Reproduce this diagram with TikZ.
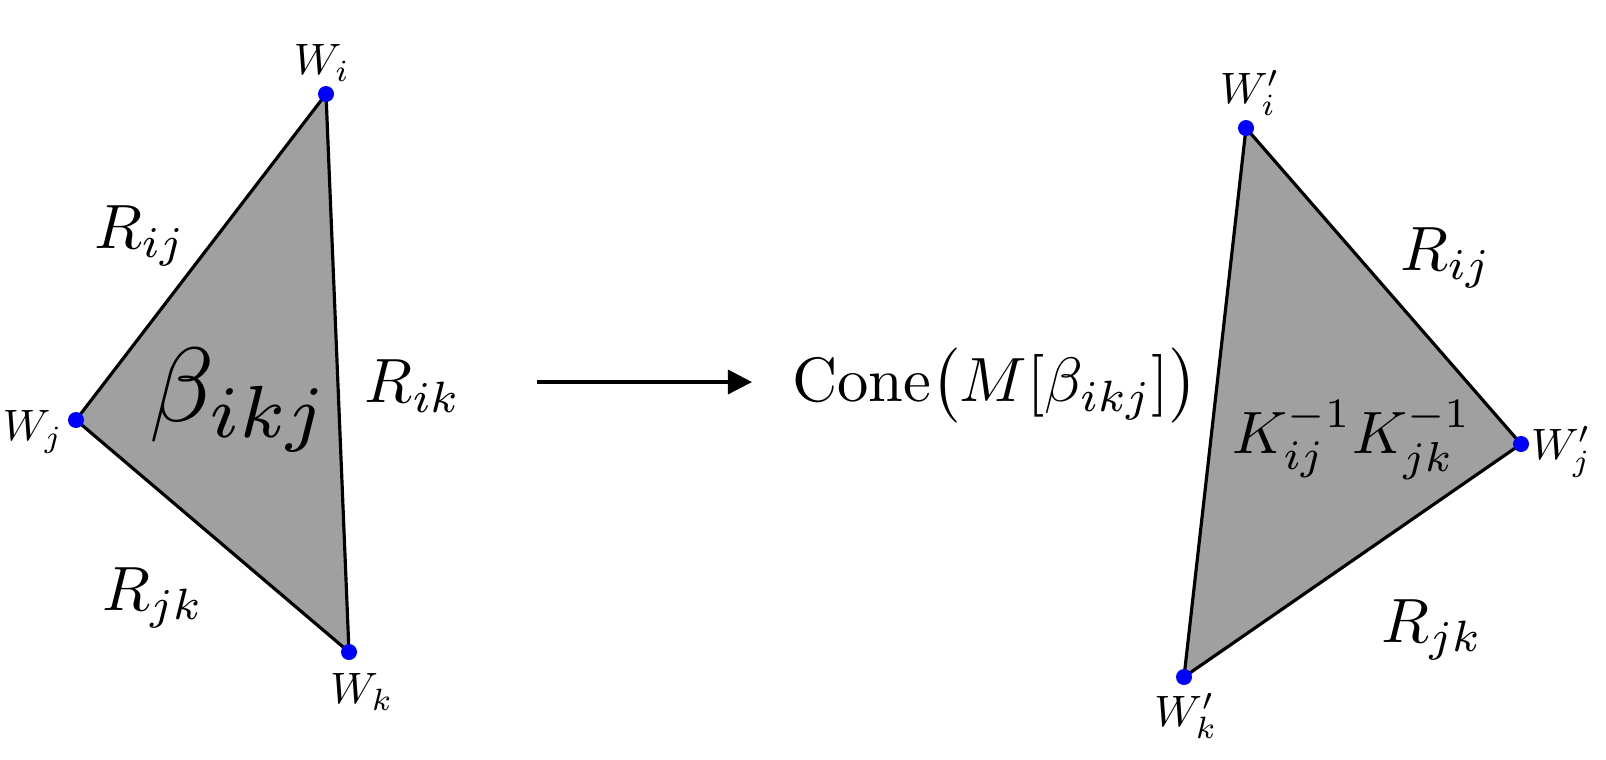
\documentclass[tikz,border=0pt]{standalone}
\usepackage{amsmath}
\usetikzlibrary{arrows.meta}
\begin{document}
\begin{tikzpicture}[x=0.01cm,y=-0.01cm,
  tri/.style={fill={rgb,255:red,160;green,160;blue,160},draw=black,line width=0.9pt,line join=round},
  vdot/.style={circle,fill=blue,inner sep=0pt,minimum size=0.16cm},
  small/.style={inner sep=0pt,scale=1.25},
  mid/.style={inner sep=0pt,scale=1.78},
  conn/.style={line width=0.9pt,-{Triangle[length=0.24cm,width=0.24cm]}}]
\useasboundingbox (0,0) rectangle (1606,759);
% left triangle
\coordinate (a) at (326,94);
\coordinate (b) at (76,420);
\coordinate (c) at (349,652);
\draw[tri] (a) -- (b) -- (c) -- cycle;
\node[vdot] (Wi) at (a) {};
\node[vdot] (Wj) at (b) {};
\node[vdot] (Wk) at (c) {};
\node[small] (lWi) at (322,63) {$W_i$};
\node[small] (lWj) at (33,432) {$W_j$};
\node[small] (lWk) at (362,692) {$W_k$};
\node[mid] (Rij) at (140,236) {$R_{ij}$};
\node[mid] (Rik) at (413,386) {$R_{ik}$};
\node[mid] (Rjk) at (153,598) {$R_{jk}$};
\node[inner sep=0pt,scale=3] (beta) at (240,400) {$\beta_{ikj}$};
% arrow
\coordinate (s) at (537,382);
\coordinate (e) at (752,382);
\draw[conn] (s) -- (e);
\node[mid] (cone) at (995,386) {$\mathrm{Cone}\bigl(M[\beta_{ikj}]\bigr)$};
% right triangle
\coordinate (a2) at (1246,128);
\coordinate (b2) at (1521,444);
\coordinate (c2) at (1184,677);
\draw[tri] (a2) -- (b2) -- (c2) -- cycle;
\node[vdot] (Wi2) at (a2) {};
\node[vdot] (Wj2) at (b2) {};
\node[vdot] (Wk2) at (c2) {};
\node[small] (lWi2) at (1250,93) {$W'_i$};
\node[small] (lWj2) at (1561,452) {$W'_j$};
\node[small] (lWk2) at (1186,716) {$W'_k$};
\node[mid] (Rij2) at (1446,258) {$R_{ij}$};
\node[mid] (Rjk2) at (1432,630) {$R_{jk}$};
\node[inner sep=0pt,scale=1.7] (K) at (1352,440) {$K_{ij}^{-1}K_{jk}^{-1}$};
\end{tikzpicture}
\end{document}
